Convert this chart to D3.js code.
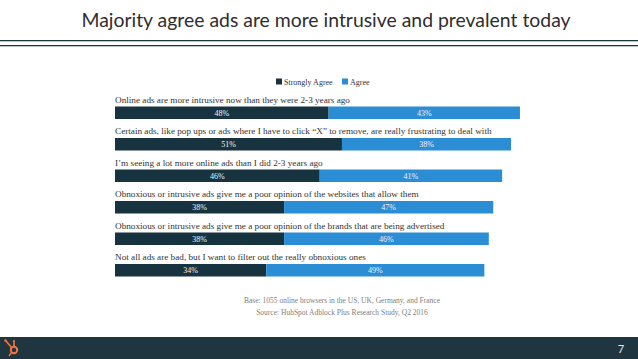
<!DOCTYPE html>
<html><head><meta charset="utf-8">
<script src="https://cdn.jsdelivr.net/npm/d3@7/dist/d3.min.js"></script>
<style>body{margin:0;background:#fff}svg{display:block}</style>
</head><body>
<script>
const categories = [
  "Online ads are more intrusive now than they were 2-3 years ago",
  "Certain ads, like pop ups or ads where I have to click \u201cX\u201d to remove, are really frustrating to deal with",
  "I\u2019m seeing a lot more online ads than I did 2-3 years ago",
  "Obnoxious or intrusive ads give me a poor opinion of the websites that allow them",
  "Obnoxious or intrusive ads give me a poor opinion of the brands that are being advertised",
  "Not all ads are bad, but I want to filter out the really obnoxious ones"
];
const stronglyAgree = [48, 51, 46, 38, 38, 34];
const agree = [43, 38, 41, 47, 46, 49];
const seriesNames = ["Strongly Agree", "Agree"];
const colors = ["#17333f", "#2b8dd3"];

const W = 638, H = 359;
const svg = d3.select("body").append("svg").attr("width", W).attr("height", H);

// title
svg.append("text").attr("x", 326).attr("y", 26.8).attr("text-anchor", "middle")
  .attr("font-family", "Lato, 'Open Sans', sans-serif").attr("font-size", 19.4)
  .attr("fill", "#2e2e2e").text("Majority agree ads are more intrusive and prevalent today");
svg.append("rect").attr("x", 0).attr("y", 40).attr("width", W).attr("height", 1.3).attr("fill", "#1f3540");
svg.append("rect").attr("x", 0).attr("y", 45).attr("width", W).attr("height", 1.3).attr("fill", "#1f3540");

// legend
const leg = svg.append("g").attr("font-family", "'Liberation Serif', 'DejaVu Serif', serif").attr("font-size", 8).attr("fill", "#333");
const legX = [276, 342];
seriesNames.forEach((n, i) => {
  leg.append("rect").attr("x", legX[i]).attr("y", 78.5).attr("width", 6).attr("height", 6).attr("fill", colors[i]);
  leg.append("text").attr("x", legX[i] + 8).attr("y", 84.5).text(n);
});

// scales
const x = d3.scaleLinear().domain([0, 100]).range([115, 560]);
const y = d3.scaleBand().domain(d3.range(categories.length)).range([93, 282]).paddingInner(0).paddingOuter(0);
const barH = 12.5;

const rows = svg.append("g");
categories.forEach((c, i) => {
  const top = y(i) + y.bandwidth() - barH - 5.5;
  rows.append("text").attr("x", x(0)).attr("y", top - 4)
    .attr("font-family", "'Liberation Serif', 'DejaVu Serif', serif").attr("font-size", 9.2)
    .attr("fill", "#333").text(c);
  const vals = [stronglyAgree[i], agree[i]];
  let acc = 0;
  vals.forEach((v, j) => {
    rows.append("rect").attr("x", x(acc)).attr("y", top).attr("width", x(acc + v) - x(acc))
      .attr("height", barH).attr("fill", colors[j]);
    rows.append("text").attr("x", (x(acc) + x(acc + v)) / 2).attr("y", top + barH / 2 + 3)
      .attr("text-anchor", "middle").attr("font-family", "'Liberation Serif', 'DejaVu Serif', serif")
      .attr("font-size", 8).attr("fill", "#f4f4f4").text(v + "%");
    acc += v;
  });
});

// source
const src = svg.append("g").attr("font-family", "'Liberation Serif', 'DejaVu Serif', serif")
  .attr("font-size", 7.5).attr("fill", "#808080").attr("text-anchor", "middle");
src.append("text").attr("x", 342).attr("y", 303).text("Base: 1055 online browsers in the US, UK, Germany, and France");
src.append("text").attr("x", 342).attr("y", 315).text("Source: HubSpot Adblock Plus Research Study, Q2 2016");

// footer
svg.append("rect").attr("x", 0).attr("y", 337).attr("width", W).attr("height", H - 337).attr("fill", "#1f3540");
svg.append("text").attr("x", 621).attr("y", 353).attr("text-anchor", "middle")
  .attr("font-family", "Lato, sans-serif").attr("font-size", 11).attr("fill", "#e8e8e8").text("7");
// hubspot sprocket
const logo = svg.append("g").attr("stroke", "#f2773a").attr("fill", "none");
logo.append("circle").attr("cx", 14).attr("cy", 350).attr("r", 3.2).attr("stroke-width", 2);
logo.append("line").attr("x1", 14).attr("y1", 346.5).attr("x2", 14).attr("y2", 341.5).attr("stroke-width", 1.6);
logo.append("line").attr("x1", 11.5).attr("y1", 347.5).attr("x2", 6).attr("y2", 341).attr("stroke-width", 1.6);
logo.append("line").attr("x1", 11.5).attr("y1", 352.5).attr("x2", 9).attr("y2", 356).attr("stroke-width", 1.4);
logo.append("circle").attr("cx", 5.5).attr("cy", 340.5).attr("r", 1.3).attr("fill", "#f2773a").attr("stroke", "none");
logo.append("circle").attr("cx", 14).attr("cy", 341).attr("r", 1.1).attr("fill", "#f2773a").attr("stroke", "none");
</script>
</body></html>
